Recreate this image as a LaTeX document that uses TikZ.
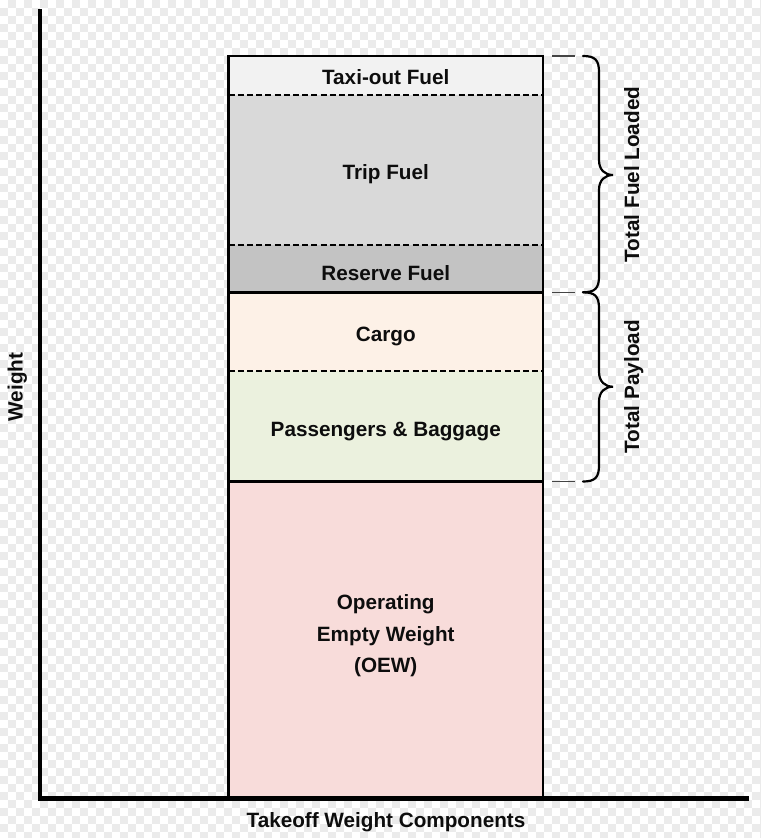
\documentclass[tikz,border=0pt]{standalone}
\usepackage{fontspec}
\setmainfont{Liberation Sans}
\definecolor{chk}{RGB}{235,235,235}
\definecolor{taxi}{HTML}{F2F2F2}
\definecolor{trip}{HTML}{D9D9D9}
\definecolor{reserve}{HTML}{C3C3C3}
\definecolor{cargo}{HTML}{FDF1E7}
\definecolor{pass}{HTML}{EBF1DE}
\definecolor{oew}{HTML}{F8DCDA}
\definecolor{tickgray}{HTML}{444444}
\newcommand\mybrace[3]{%
  \draw[brc] (583,#1) .. controls (595,#1) and (599,#1+4) .. (599,#1+16)
    -- (599,#3-15) .. controls (599,#3-5) and (605,#3) .. (613,#3)
    .. controls (605,#3) and (599,#3+5) .. (599,#3+15)
    -- (599,#2-16) .. controls (599,#2-4) and (595,#2) .. (583,#2);}
\begin{document}
\begin{tikzpicture}[x=1pt,y=-1pt,
  lbl/.style={font=\fontsize{20.7}{24}\selectfont\bfseries, text=black!95, inner sep=0pt},
  sepline/.style={line width=2.4pt, dash pattern=on 6pt off 3.2pt},
  solidsep/.style={line width=2.9pt},
  boxline/.style={line width=2.9pt, line join=miter},
  axisline/.style={line width=4.6pt, line join=miter},
  brc/.style={line width=2.2pt, line cap=round},
  tickline/.style={line width=1.3pt, draw=tickgray}]
\useasboundingbox (0,0) rectangle (761,838);
% background checkerboard
\fill[white] (0,0) rectangle (761,838);
\foreach \yy in {0,16,...,816} {\foreach \xx in {8,24,...,744} {\fill[chk] (\xx,\yy) rectangle ++(8,8);}}
\foreach \yy in {8,24,...,824} {\foreach \xx in {0,16,...,752} {\fill[chk] (\xx,\yy) rectangle ++(8,8);}}
\foreach \xx in {8,24,...,744} {\fill[chk] (\xx,832) rectangle (\xx+8,838);}
\fill[chk] (760,0) rectangle (761,838);
% segment fills
\fill[taxi]    (228.5,56)  rectangle (543,95);
\fill[trip]    (228.5,95)  rectangle (543,245);
\fill[reserve] (228.5,245) rectangle (543,292.3);
\fill[cargo]   (228.5,292.3) rectangle (543,371);
\fill[pass]    (228.5,371) rectangle (543,481.5);
\fill[oew]     (228.5,481.5) rectangle (543,798);
% separators
\coordinate (d1l) at (228.5,95);   \coordinate (d1r) at (543,95);
\coordinate (d2l) at (228.5,245);  \coordinate (d2r) at (543,245);
\coordinate (s1l) at (228.5,292.3);\coordinate (s1r) at (543,292.3);
\coordinate (d3l) at (228.5,371);  \coordinate (d3r) at (543,371);
\coordinate (s2l) at (228.5,481.5);\coordinate (s2r) at (543,481.5);
\draw[sepline] (d1l) -- (d1r);
\draw[sepline] (d2l) -- (d2r);
\draw[sepline] (d3l) -- (d3r);
\draw[solidsep] (s1l) -- (s1r);
\draw[solidsep] (s2l) -- (s2r);
\draw[boxline] (228.5,798) -- (228.5,56) -- (543,56) -- (543,798);
% axes
\coordinate (ytop) at (40,9);
\coordinate (origin) at (40,798.5);
\coordinate (xend) at (749,798.5);
\draw[axisline] (ytop) -- (origin) -- (xend);
% labels in bar
\node[lbl, anchor=base] (taxiL) at (385.75,84.5) {Taxi-out Fuel};
\node[lbl, anchor=base] (tripL) at (385.75,179) {Trip Fuel};
\node[lbl, anchor=base] (resL) at (385.75,280) {Reserve Fuel};
\node[lbl, anchor=base] (cargoL) at (385.75,341.5) {Cargo};
\node[lbl, anchor=base] (passL) at (385.75,436) {Passengers \& Baggage};
\node[lbl, anchor=base] (oew1) at (385.75,609.3) {Operating};
\node[lbl, anchor=base] (oew2) at (385.75,641) {Empty Weight};
\node[lbl, anchor=base] (oew3) at (385.75,672.5) {(OEW)};
% axis labels
\node[lbl, anchor=base] (xlab) at (386,827) {Takeoff Weight Components};
\node[lbl, anchor=base, rotate=90] (ylab) at (22.5,387) {Weight};
% ticks
\coordinate (t1a) at (552,56);    \coordinate (t1b) at (575,56);
\coordinate (t2a) at (552,292.3); \coordinate (t2b) at (575,292.3);
\coordinate (t3a) at (552,481.5); \coordinate (t3b) at (575,481.5);
\draw[tickline] (t1a) -- (t1b);
\draw[tickline] (t2a) -- (t2b);
\draw[tickline] (t3a) -- (t3b);
% braces
\mybrace{56}{292.3}{175}
\mybrace{292.3}{481.5}{386.7}
\node[lbl, anchor=base, rotate=90] (fuelL) at (639,174.5) {Total Fuel Loaded};
\node[lbl, anchor=base, rotate=90] (payL) at (639,386.7) {Total Payload};
\end{tikzpicture}
\end{document}
